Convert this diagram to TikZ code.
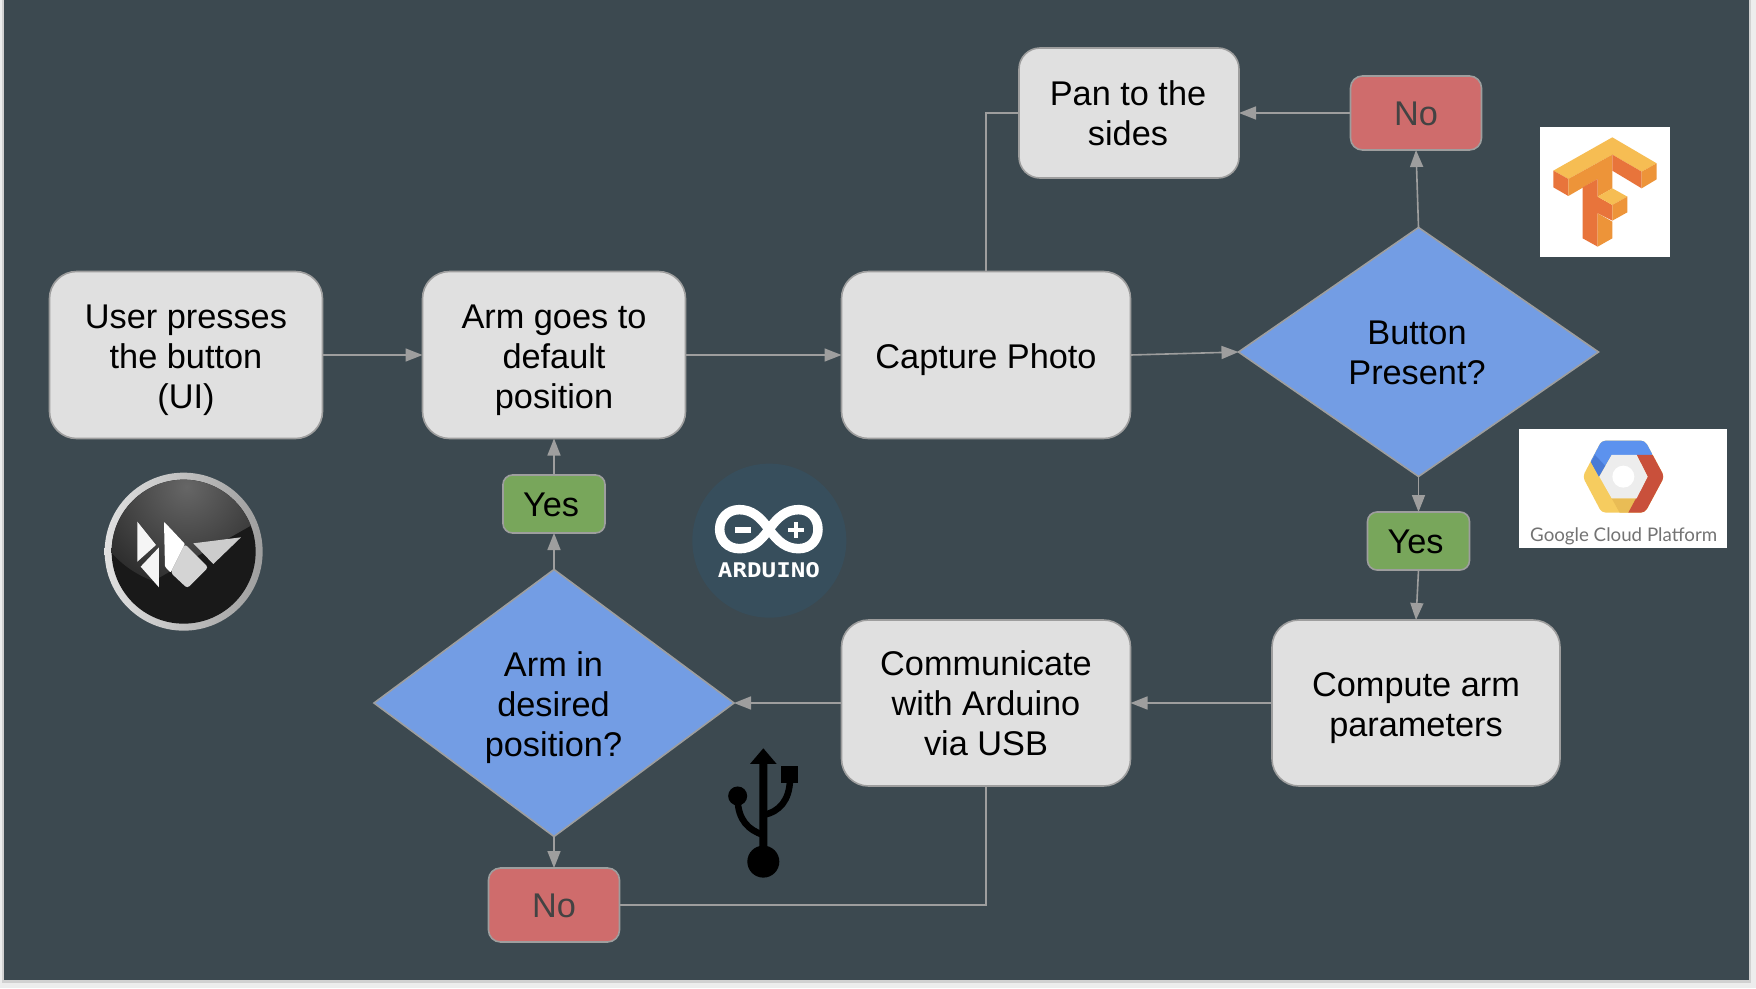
\documentclass[tikz,border=0pt]{standalone}
\usepackage{fontspec}
\usepackage{graphicx}
\setmainfont{Liberation Sans}
\newfontfamily\gcpfont{Lato}
\newfontfamily\ardfont{DejaVu Sans Mono}
\usetikzlibrary{shapes.geometric,arrows.meta}
\definecolor{slidebg}{HTML}{3C4950}
\definecolor{linegray}{HTML}{9E9E9E}
\definecolor{boxgray}{HTML}{E0E0E0}
\definecolor{diablue}{HTML}{739DE4}
\definecolor{yesgreen}{HTML}{78A65B}
\definecolor{nored}{HTML}{CF6C6C}
\definecolor{notext}{HTML}{434343}
\newcommand{\dnshift}[1]{\rule{0pt}{\dimexpr 25pt+2\dimexpr #1pt\relax\relax}}
\tikzset{
  lbl/.style={font=\fontsize{34.3}{40}\selectfont,align=center,text=black,inner sep=0pt,outer sep=0pt},
  procbox/.style={lbl,rectangle,rounded corners=27pt,draw=linegray,line width=1.6pt,fill=boxgray},
  decision/.style={lbl,diamond,draw=linegray,line width=1.6pt,fill=diablue},
  yesbox/.style={lbl,rectangle,rounded corners=9.5pt,draw=linegray,line width=1.6pt,fill=yesgreen,minimum width=102pt,minimum height=58pt},
  nobox/.style={lbl,rectangle,rounded corners=12pt,draw=linegray,line width=1.6pt,fill=nored,minimum width=131pt,minimum height=74pt,text=notext},
  flow/.style={draw=linegray,line width=1.6pt},
  arrowflow/.style={flow,-{Triangle[length=17pt,width=13pt,fill=linegray]}},
}
\begin{document}
\begin{tikzpicture}[x=1pt,y=-1pt]
\useasboundingbox (0,0) rectangle (1756,988);
\fill[white!93!black] (0,0) rectangle (1756,988);
\fill[black!18] (2,0) rectangle (1751,983);
\fill[slidebg] (4,0) rectangle (1749,980);
% nodes
\node[procbox,minimum width=273pt,minimum height=167pt] (user) at (186,355) {\dnshift{4.5}User presses\\the button\\(UI)};
\node[procbox,minimum width=263pt,minimum height=167pt] (arm) at (554,355) {\dnshift{4.5}Arm goes to\\default\\position};
\node[procbox,minimum width=289pt,minimum height=167pt] (capture) at (986,355) {\dnshift{4.5}Capture Photo};
\node[procbox,rounded corners=21pt,minimum width=220pt,minimum height=130pt] (pan) at (1129,113) {\dnshift{0.5}\hspace*{-2pt}Pan to the\\\hspace*{-2pt}sides};
\node[nobox] (notop) at (1416,113) {\dnshift{0.5}No};
\node[decision,minimum width=360pt,minimum height=249pt] (button) at (1418.5,352) {\dnshift{0.5}\hspace*{-3pt}Button\\\hspace*{-3pt}Present?};
\node[yesbox] (yesright) at (1418.5,541) {\dnshift{0.5}\hspace*{-6pt}Yes};
\node[procbox,minimum width=288pt,minimum height=166pt] (compute) at (1416,703) {\dnshift{4.5}Compute arm\\parameters};
\node[procbox,minimum width=289pt,minimum height=166pt] (comm) at (986,703) {\dnshift{0.5}Communicate\\with Arduino\\via USB};
\node[decision,minimum width=360pt,minimum height=267pt] (armdia) at (554,703) {\dnshift{4.5}\hspace*{-1pt}Arm in\\\hspace*{-1pt}desired\\\hspace*{-1pt}position?};
\node[yesbox] (yesleft) at (554,504) {\dnshift{0.5}\hspace*{-6pt}Yes};
\node[nobox] (nobot) at (554,905) {\dnshift{0.5}No};
% connectors
\draw[arrowflow] (user.east) -- (arm.west);
\draw[arrowflow] (arm.east) -- (capture.west);
\draw[arrowflow] (capture.east) -- (button.west);
\draw[flow] (capture.north) |- (pan.west);
\draw[arrowflow] (notop.west) -- (pan.east);
\draw[arrowflow] (button.north) -- (notop.south);
\draw[arrowflow] (button.south) -- (yesright.north);
\draw[arrowflow] (yesright.south) -- (compute.north);
\draw[arrowflow] (compute.west) -- (comm.east);
\draw[arrowflow] (comm.west) -- (armdia.east);
\draw[arrowflow] (armdia.north) -- (yesleft.south);
\draw[arrowflow] (yesleft.north) -- (arm.south);
\draw[arrowflow] (armdia.south) -- (nobot.north);
\draw[flow] (nobot.east) -| (comm.south);
% TensorFlow logo
\fill[white] (1540,127) rectangle (1670,257);
\begin{scope}[shift={(1480,80)},x=0.3333pt,y=-0.3333pt]
\definecolor{tfa}{HTML}{F6BD53}\definecolor{tfb}{HTML}{ED9439}\definecolor{tfc}{HTML}{E8743B}
\fill[tfa] (397,172)--(530,250)--(485,275)--(397,224)--(265,297)--(220,272)--cycle;
\fill[tfc] (220,272)--(265,297)--(265,348)--(220,322)--cycle;
\fill[tfb] (265,297)--(397,224)--(397,325)--(353,350)--(353,297)--(265,348)--cycle;
\fill[tfc] (397,224)--(485,275)--(485,325)--(397,272)--cycle;
\fill[tfb] (485,275)--(530,250)--(530,298)--(485,325)--cycle;
\fill[tfc] (308,322)--(353,297)--(353,350)--(397,375)--(397,422)--(353,400)--(353,500)--(308,475)--cycle;
\fill[tfb] (353,400)--(397,425)--(397,475)--(353,500)--cycle;
\fill[tfa] (397,325)--(442,350)--(397,375)--(353,350)--cycle;
\fill[tfb] (397,375)--(442,350)--(442,397)--(397,422)--cycle;
\end{scope}
% Google Cloud logo
\fill[white] (1519,429) rectangle (1727,548);
\begin{scope}[shift={(1480,80)},x=0.3333pt,y=-0.3333pt]
\definecolor{gb}{HTML}{5C92EE}\definecolor{gbd}{HTML}{4A7BD6}\definecolor{gr}{HTML}{C9503B}\definecolor{gy}{HTML}{F6CC5F}\definecolor{gyd}{HTML}{E9BC55}
\begin{scope}
\clip[rounded corners=4pt] (365,1082)--(495,1082)--(553,1190)--(495,1298)--(365,1298)--(308,1190)--cycle;
\fill[gy] (300,1070) rectangle (560,1310);
\fill[gyd] (395,1255)--(470,1255)--(445,1300)--(420,1300)--cycle;
\fill[gb] (340,1070)--(520,1070)--(518,1125)--(395,1125)--(357,1190)--(325,1130)--cycle;
\fill[gbd] (333,1147)--(357,1190)--(376,1158)--(345,1125)--cycle;
\fill[gr] (470,1125)--(518,1125)--(560,1125)--(560,1310)--(445,1310)--(445,1298)--(503,1190)--cycle;
\end{scope}
\fill[black!7] (395,1125)--(470,1125)--(503,1190)--(470,1255)--(395,1255)--(358,1190)--cycle;
\fill[white] (430,1190) circle (11pt);
\node[inner sep=0pt,text=black!55] (gcptext) at (431,1369) {\resizebox{187pt}{!}{\fontsize{20}{24}\gcpfont Google Cloud Platform}};
\end{scope}
% Kivy logo
\begin{scope}[shift={(80,450)},x=0.3333pt,y=-0.3333pt]
\shade[left color=black!12,right color=black!38] (311,305) circle (79pt);
\fill[black!90] (311,305) circle (72pt);
\begin{scope}
\clip (311,305) circle (72pt);
\clip (60,60) -- (560,60) -- (560,200) -- (120,450) -- (60,450) -- cycle;
\shade[inner color=black!60,outer color=black!82] (320,110) circle (100pt);
\end{scope}
\fill[black!4] (172,215)--(228,285)--(172,335)--cycle;
\fill[black!4] (237,292)--(237,412)--(182,350)--cycle;
\fill[white,rounded corners=1pt] (252,215)--(315,282)--(272,368)--(255,350)--cycle;
\fill[black!17,rounded corners=3pt] (315,282)--(385,352)--(322,415)--(272,368)--cycle;
\fill[black!20] (340,280)--(483,262)--(400,342)--cycle;
\end{scope}
% Arduino logo
\begin{scope}[shift={(680,450)},x=0.3333pt,y=-0.3333pt]
\definecolor{ardbg}{HTML}{374E5C}
\fill[ardbg] (268,272) circle (77pt);
\draw[white,line width=9.5pt] (267,238) .. controls (240,200) and (215,179) .. (178,179) .. controls (143,179) and (119,205) .. (119,238) .. controls (119,270) and (143,296) .. (178,296) .. controls (215,296) and (240,276) .. (267,238) .. controls (294,200) and (320,179) .. (356,179) .. controls (391,179) and (414,205) .. (414,238) .. controls (414,270) and (391,296) .. (356,296) .. controls (320,296) and (294,276) .. (267,238) -- cycle;
\fill[white] (165,232) rectangle (212,250);
\fill[white] (323,234) rectangle (371,246);
\fill[white] (341,216) rectangle (353,264);
\node[inner sep=0pt,text=white] (ardtext) at (267,360) {\resizebox{102pt}{15pt}{\fontsize{18}{20}\ardfont\bfseries ARDUINO}};
\end{scope}
% USB symbol
\begin{scope}[shift={(680,450)},x=0.3333pt,y=-0.3333pt]
\fill[black] (250,895)--(290,942)--(262,942)--(262,1235)--(238,1235)--(238,942)--(210,942)--cycle;
\fill[black] (250,1235) circle (16pt);
\fill[black] (173,1038) circle (9.5pt);
\fill[black] (303,948) rectangle (355,998);
\draw[black,line width=6.5pt] (173,1050) .. controls (175,1110) and (205,1140) .. (250,1155);
\draw[black,line width=6.5pt] (330,990) .. controls (328,1050) and (300,1085) .. (250,1095);
\end{scope}
\end{tikzpicture}
\end{document}
